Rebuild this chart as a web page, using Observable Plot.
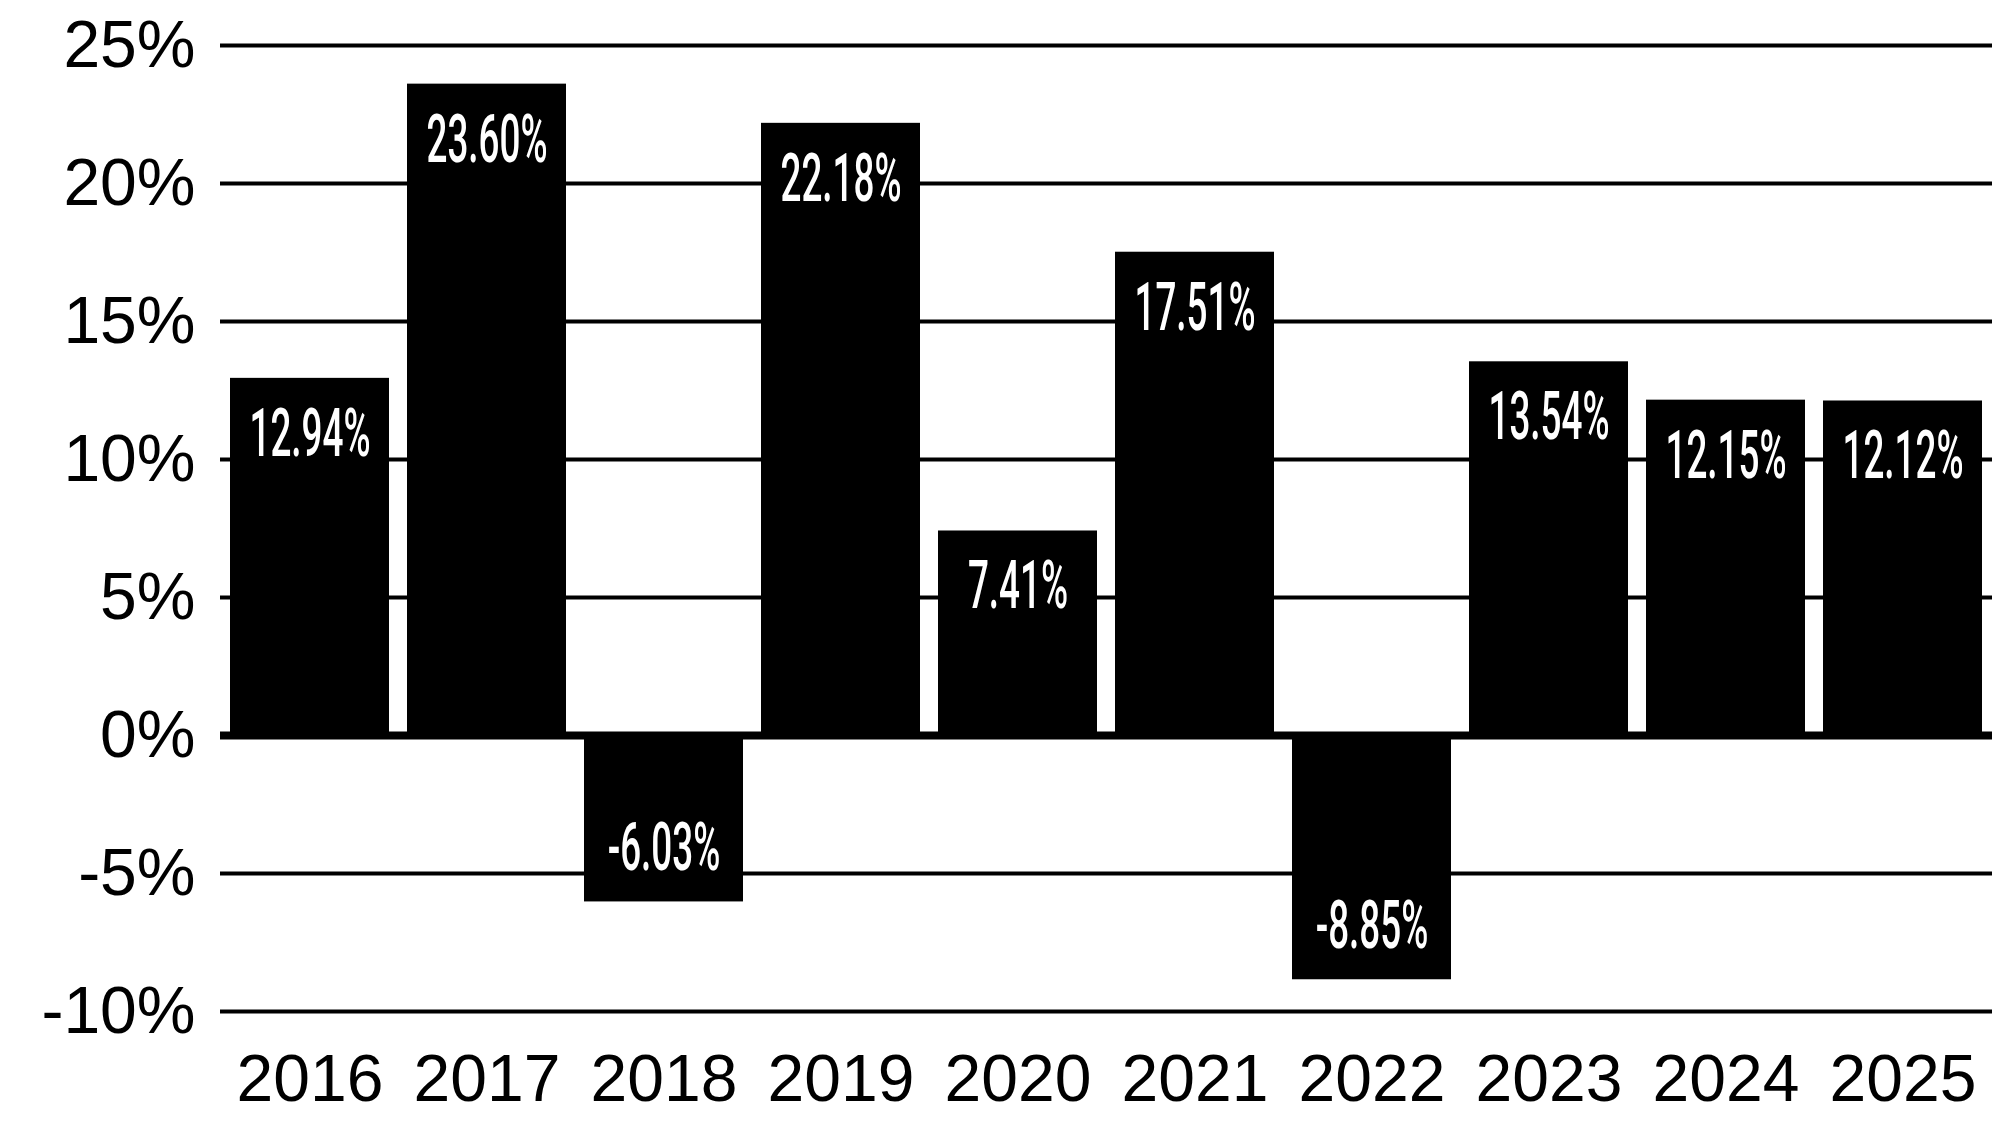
<!DOCTYPE html>
<html>
<head>
<meta charset="utf-8">
<script src="https://cdn.jsdelivr.net/npm/d3@7"></script>
<script src="https://cdn.jsdelivr.net/npm/@observablehq/plot@0.6"></script>
<style>
  html, body { margin: 0; padding: 0; background: #fff; }
  #chart svg { display: block; }
</style>
</head>
<body>
<div id="chart"></div>
<script>
const years = ["2016","2017","2018","2019","2020","2021","2022","2023","2024","2025"];
const returns = [12.94, 23.60, -6.03, 22.18, 7.41, 17.51, -8.85, 13.54, 12.15, 12.12];
const yTicks = [-10, -5, 0, 5, 10, 15, 20, 25];
const gridValues = [-10, -5, 5, 10, 15, 20, 25];

const data = years.map((year, i) => ({ year, value: returns[i] }));
const fmt = d => d.value.toFixed(2) + "%";

const chart = Plot.plot({
  width: 1992,
  height: 1125,
  marginLeft: 220,
  marginRight: 0,
  marginTop: 45,
  marginBottom: 114,
  style: { fontFamily: "Liberation Sans, Arial, sans-serif", fontSize: "66px", color: "#000", background: "#fff" },
  x: { domain: years, paddingInner: 0.1, paddingOuter: 0.05, tickSize: 0, tickPadding: 43, label: null },
  y: { domain: [-10, 25], ticks: yTicks, tickFormat: d => d + "%", tickSize: 0, tickPadding: 25, label: null },
  marks: [
    Plot.ruleY(gridValues, { stroke: "#000", strokeWidth: 4 }),
    Plot.barY(data, { x: "year", y: "value", fill: "#000" }),
    Plot.ruleY([0], { stroke: "#000", strokeWidth: 8 }),
    Plot.text(data.filter(d => d.value >= 0), {
      x: "year", y: "value", text: fmt, dy: 56,
      fill: "#fff", fontSize: 67, fontWeight: 500, fontFamily: "Roboto, sans-serif"
    }),
    Plot.text(data.filter(d => d.value < 0), {
      x: "year", y: "value", text: fmt, dy: -53,
      fill: "#fff", fontSize: 67, fontWeight: 500, fontFamily: "Roboto, sans-serif"
    })
  ]
});

// Condense the value labels horizontally (no condensed face installed)
d3.select(chart).selectAll('g[aria-label="text"] text').each(function() {
  const t = this.getAttribute("transform");
  if (t) {
    this.setAttribute("transform", t + " scale(0.55,1)");
  } else {
    const x = +this.getAttribute("x") || 0;
    const y = +this.getAttribute("y") || 0;
    this.removeAttribute("x");
    this.removeAttribute("y");
    this.setAttribute("transform", `translate(${x},${y}) scale(0.55,1)`);
  }
});

document.getElementById("chart").appendChild(chart);
</script>
</body>
</html>
